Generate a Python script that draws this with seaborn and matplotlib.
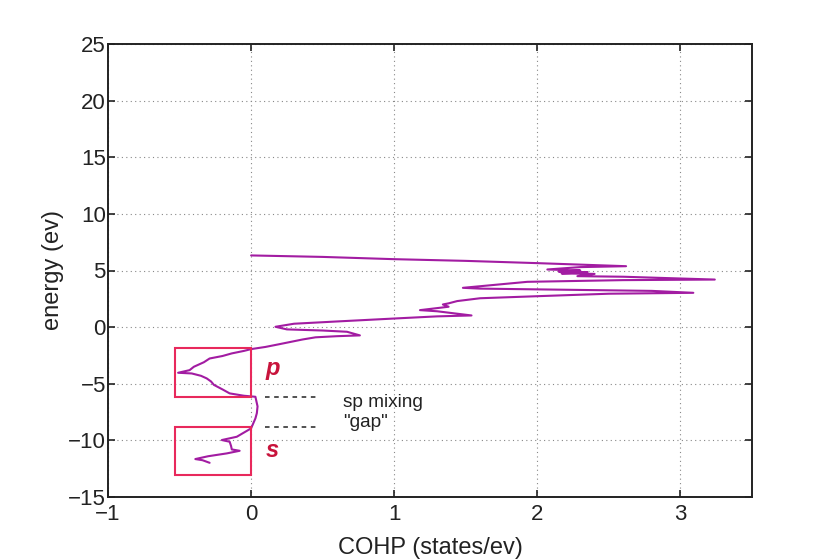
import matplotlib
matplotlib.use("Agg")
import matplotlib.pyplot as plt
import seaborn as sns
import pandas as pd
from matplotlib.patches import Rectangle

cohp = [0.00, 0.5, 1.0, 1.5, 2.0, 2.62, 2.3, 2.07, 2.3, 2.15, 2.35, 2.17, 2.4, 2.28, 2.6, 3.24,
        2.6, 1.93, 1.48, 1.6, 2.2, 2.8, 3.09, 2.5, 2.02, 1.6, 1.44, 1.38, 1.34, 1.38, 1.18, 1.3,
        1.54, 1.3, 1.0, 0.6, 0.3, 0.17, 0.25, 0.5, 0.67, 0.76, 0.6, 0.45, 0.36, 0.2, 0.1, 0.0,
        -0.05, -0.135, -0.2, -0.29, -0.33, -0.40, -0.43, -0.51, -0.415, -0.35, -0.31, -0.28,
        -0.26, -0.2, -0.15, -0.05, 0.03, 0.045, 0.04, 0.03, 0.0, -0.10, -0.205, -0.15, -0.14,
        -0.135, -0.08, -0.17, -0.3, -0.39, -0.34, -0.29]
energy = [6.33, 6.2, 6.0, 5.85, 5.65, 5.38, 5.3, 5.09, 5.0, 4.9, 4.85, 4.74, 4.7, 4.5, 4.45, 4.2,
          4.15, 4.0, 3.47, 3.4, 3.3, 3.2, 3.03, 2.95, 2.74, 2.55, 2.3, 2.1, 2.0, 1.8, 1.5, 1.4,
          1.03, 0.95, 0.76, 0.5, 0.3, 0.03, -0.2, -0.3, -0.41, -0.73, -0.8, -0.9, -1.09, -1.5,
          -1.75, -1.94, -2.1, -2.32, -2.55, -2.77, -3.1, -3.5, -3.8, -4.03, -4.09, -4.3, -4.53,
          -4.8, -5.1, -5.5, -5.85, -6.06, -6.15, -7.0, -7.6, -8.06, -8.94, -9.68, -9.97, -10.12,
          -10.5, -10.8, -10.92, -11.15, -11.4, -11.65, -11.75, -11.98]

x_ticks = [-1, 0, 1, 2, 3]
y_ticks = [-15, -10, -5, 0, 5, 10, 15, 20, 25]

# boxes: (x0, y0, width, height) in data units
box_p = (-0.53, -6.15, 0.53, 4.27)
box_s = (-0.53, -13.06, 0.53, 4.21)
gap_lines = [-6.15, -8.85]

sns.set_theme(style="ticks")
plt.rcParams['font.family'] = ['Liberation Sans', 'DejaVu Sans']

fig = plt.figure(figsize=(8.3, 5.6), dpi=100)
ax = fig.add_axes([108/830, 1-497/560, (752-108)/830, (497-44)/560])

df = pd.DataFrame({"cohp": cohp, "energy": energy})
sns.lineplot(data=df, x="cohp", y="energy", sort=False, estimator=None,
             color="#A21CA2", linewidth=1.5, ax=ax)

ax.set_xlim(-1, 3.5)
ax.set_ylim(-15, 25)
ax.set_xticks(x_ticks)
ax.set_yticks(y_ticks)
ax.set_xticklabels(["\u2212" + str(-t) if t < 0 else str(t) for t in x_ticks])
ax.set_yticklabels(["\u2212" + str(-t) if t < 0 else str(t) for t in y_ticks])
ax.grid(True, linestyle=(0, (1, 3)), color="#888888", linewidth=0.8)
ax.tick_params(direction="in", length=5, width=1.2, labelsize=16, colors="#222222",
               top=True, right=True)
ax.tick_params(axis="x", pad=5)
ax.tick_params(axis="y", pad=1.5)
for sp in ax.spines.values():
    sp.set_linewidth(1.4)
    sp.set_color("#222222")
    sp.set_visible(True)

for b in (box_p, box_s):
    ax.add_patch(Rectangle((b[0], b[1]), b[2], b[3], fill=False,
                           edgecolor="#E8295C", linewidth=1.5, zorder=3))

for yv in gap_lines:
    ax.plot([0.1, 0.48], [yv, yv], color="#222222", linestyle=(0, (3, 3)), linewidth=1.1)

ax.text(0.1, -3.65, "p", color="#C8143C", fontsize=17, fontweight="bold",
        fontstyle="italic", va="center", ha="left")
ax.text(0.1, -10.85, "s", color="#C8143C", fontsize=17, fontweight="bold",
        fontstyle="italic", va="center", ha="left")
ax.text(0.645, -6.65, "sp mixing", fontsize=13.7, color="#222222", va="center", ha="left")
ax.text(0.645, -8.45, "\"gap\"", fontsize=13.7, color="#222222", va="center", ha="left")

ax.set_xlabel("COHP (states/ev)", fontsize=17, color="#222222", labelpad=9)
ax.set_ylabel("energy (ev)", fontsize=17, color="#222222", labelpad=3)

fig.savefig("out.png", dpi=100)
